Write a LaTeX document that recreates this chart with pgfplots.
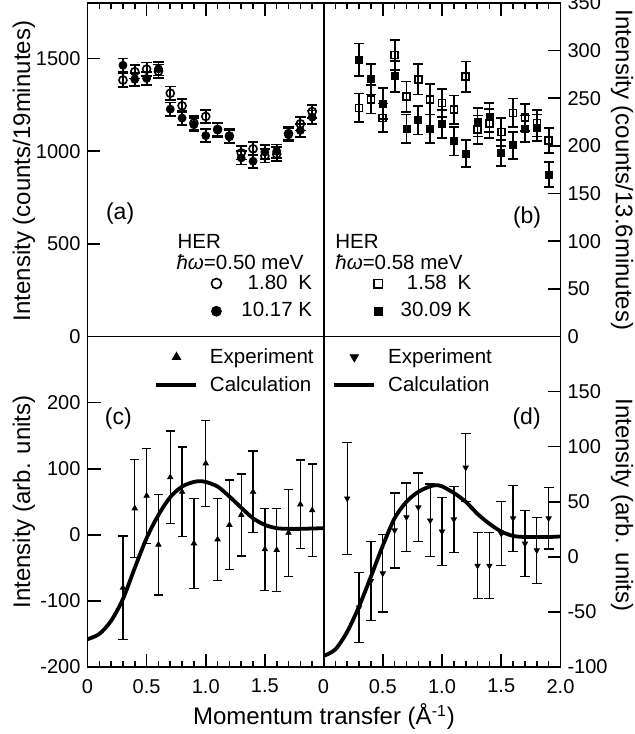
\documentclass[border=0pt]{standalone}
\usepackage{fontspec}
\setmainfont{Liberation Sans}
\usepackage{pgfplots}
\usepackage{pgfplotstable}
\pgfplotsset{compat=1.18}

\newcommand\tickfont{\fontsize{10}{11}\selectfont}
\newcommand\legfont{\fontsize{10.25}{12}\selectfont}
\newcommand\panfont{\fontsize{11.5}{13}\selectfont}
\newcommand\labfont{\fontsize{12}{14}\selectfont}

% (a) HER, hw = 0.50 meV
\pgfplotstableread{
x    y     e
0.3  1384  36
0.4  1429  36
0.5  1443  36
0.6  1432  36
0.7  1313  36
0.8  1245  36
0.9  1152  36
1.0  1188  36
1.1  1118  36
1.2  1082  36
1.3  991   36
1.4  1013  36
1.5  975   36
1.6  985   36
1.7  1095  36
1.8  1148  36
1.9  1214  36
}\aopen
\pgfplotstableread{
x    y     e
0.3  1464  36
0.4  1388  36
0.5  1393  36
0.6  1445  36
0.7  1227  36
0.8  1179  36
0.9  1143  36
1.0  1084  36
1.1  1114  36
1.2  1078  36
1.3  964   36
1.4  946   36
1.5  996   36
1.6  1000  36
1.7  1089  36
1.8  1112  36
1.9  1184  36
}\afull

% (b) HER, hw = 0.58 meV
\pgfplotstableread{
x    y      e
0.3  240    15
0.4  249    15
0.5  229.5  15
0.6  295.5  16
0.7  251.6  16
0.8  270    16
0.9  249    16
1.0  245    15
1.1  238    15
1.2  272.6  16
1.3  217    15
1.4  223.5  15
1.5  214.7  15
1.6  234.7  15
1.7  230    14
1.8  224    14
1.9  206    13
}\bopen
\pgfplotstableread{
x    y      e
0.3  290.5  17
0.4  270    16
0.5  244.6  16
0.6  273    16
0.7  218    15
0.8  227    15
0.9  218    15
1.0  223    15
1.1  205    15
1.2  192    14
1.3  225    15
1.4  230    15
1.5  192.6  14
1.6  200.7  14
1.7  218    14
1.8  219    14
1.9  170    13
}\bfull

% (c) experiment and calculation
\pgfplotstableread{
x    y    e
0.3  -80  78
0.4  40   74
0.5  59   72
0.6  -15  76
0.7  87   70
0.8  65   68
0.9  -13  68
1.0  108  65
1.1  -7   62
1.2  15   68
1.3  30   62
1.4  65   62
1.5  -22  62
1.6  -23  63
1.7  3    66
1.8  46   67
1.9  37   70
}\cexp
\pgfplotstableread{
x     y
0.0   -158
0.1   -150
0.2   -130
0.3   -97
0.4   -50
0.5   -5
0.6   30
0.7   57
0.8   73
0.9   80
0.95  81
1.0   80
1.1   73
1.2   58
1.3   41
1.4   25
1.5   15
1.6   10
1.7   9
1.8   9
1.9   9.5
2.0   10
}\ccalc

% (d) experiment and calculation
\pgfplotstableread{
x    y    e
0.2  53   51
0.3  -46  32
0.4  -22  36
0.5  -15  35
0.6  24   34
0.7  36   31
0.8  45   31
0.9  33   33
1.0  23   31
1.1  34   30
1.2  81   31
1.3  -8   30
1.4  -8   30
1.5  21   29
1.6  35   30
1.7  12   30
1.8  6    30
1.9  35   28
}\dexp
\pgfplotstableread{
x     y
0.0   -90
0.1   -84
0.2   -68
0.3   -45
0.4   -18
0.5   10
0.6   35
0.7   50
0.8   59
0.9   64
0.95  65
1.0   64
1.1   58
1.2   50
1.3   39
1.4   30
1.5   23
1.6   19
1.7   18
1.8   18
1.9   18
2.0   18.5
}\dcalc

\pgfplotsset{
  panel/.style={
    scale only axis, width=118.25pt,
    xmin=0, xmax=2, xtick={0,0.5,1,1.5,2}, minor x tick num=4,
    tick align=inside, major tick length=6.5pt, minor tick length=3.2pt,
    axis line style={line width=0.9pt},
    every tick/.append style={line width=0.8pt, black},
    /pgf/number format/assume math mode=true,
    tick label style={font=\tickfont},
    legend style={draw=none, fill=none, inner sep=0pt, font=\legfont,
      nodes={inner sep=1.5pt}, row sep=2.2pt},
  },
  toprow/.style={panel, height=166.75pt, xtick pos=right, xticklabel pos=left,
    xticklabels={{},{},{},{},{}}},
  bottomrow/.style={panel, height=165.25pt, xtick pos=left, xticklabel pos=left,
    xticklabel style={yshift=-2.5pt}},
  errs/.style 2 args={error bars/.cd, y dir=both, y explicit,
    error bar style={line width=#1, black},
    error mark options={rotate=90, line width=#1, mark size=#2, black}},
  legline/.style={legend image code/.code={
    \draw[mark repeat=2,mark phase=2,##1] plot coordinates {(0pt,0pt)(10pt,0pt)(20pt,0pt)};}},
}

\begin{document}
\begin{tikzpicture}
% (a)
\begin{axis}[toprow, at={(43.75pt,-1.5pt)}, anchor=north west,
  ymin=0, ymax=1800, ytick={0,500,1000,1500}, yticklabels={0,500,1000,1500},
  ytick pos=left, yticklabel pos=left,
  legend cell align=right,
  legend style={at={(rel axis cs:0.964,0.195)}, anchor=north east,
    /tikz/every odd column/.append style={column sep=8.5pt}}]
\addplot[forget plot, only marks, black, mark=o, mark size=2pt, line width=0.8pt, errs={0.9pt}{2.65pt}]
  table[y error=e] {\aopen};
\addplot[forget plot, only marks, black, mark=*, mark size=2pt, errs={0.9pt}{2.65pt}]
  table[y error=e] {\afull};
\addlegendimage{only marks, black, mark=o, mark size=2.5pt, line width=0.8pt}
\addlegendentry{1.80\hspace{0.25em} K}
\addlegendimage{only marks, black, mark=*, mark size=2.5pt}
\addlegendentry{10.17 K}
\node[anchor=west, inner sep=0pt, font=\legfont] at (rel axis cs:0.379,0.284) {HER};
\node[anchor=west, inner sep=0pt, font=\legfont] at (rel axis cs:0.375,0.224) {\textit{ħω}=0.50 meV};
\node[font=\panfont] at (rel axis cs:0.138,0.369) {(a)};
\end{axis}

% (b)
\begin{axis}[toprow, at={(161.75pt,-1.5pt)}, anchor=north west, width=118.5pt,
  ymin=0, ymax=350, ytick={0,50,...,350}, yticklabels={0,50,100,150,200,250,300,350},
  ytick pos=right, yticklabel pos=right,
  legend cell align=right,
  legend style={at={(rel axis cs:0.638,0.195)}, anchor=north east,
    /tikz/every odd column/.append style={column sep=7.5pt}}]
\addplot[forget plot, only marks, black, mark=square, mark size=1.75pt, line width=0.8pt, errs={0.9pt}{2.5pt}]
  table[y error=e] {\bopen};
\addplot[forget plot, only marks, black, mark=square*, mark size=1.75pt, errs={0.9pt}{2.5pt}]
  table[y error=e] {\bfull};
\addlegendimage{only marks, black, mark=square, mark size=2.1pt, line width=0.8pt}
\addlegendentry{1.58\hspace{0.25em} K}
\addlegendimage{only marks, black, mark=square*, mark size=2.1pt}
\addlegendentry{30.09 K}
\node[anchor=west, inner sep=0pt, font=\legfont] at (rel axis cs:0.0485,0.284) {HER};
\node[anchor=west, inner sep=0pt, font=\legfont] at (rel axis cs:0.0485,0.224) {\textit{ħω}=0.58 meV};
\node[font=\panfont] at (rel axis cs:0.859,0.358) {(b)};
\end{axis}

% (c)
\begin{axis}[bottomrow, at={(43.75pt,-168.25pt)}, anchor=north west,
  ymin=-200, ymax=300, ytick={-200,-100,0,100,200}, yticklabels={-200,-100,0,100,200},
  ytick pos=left, yticklabel pos=left,
  xticklabels={0,0.5,1.0,1.5,},
  legline, legend cell align=left,
  legend style={at={(rel axis cs:0.282,0.975)}, anchor=north west,
    /tikz/every odd column/.append style={column sep=4.3pt}}]
\addplot[forget plot, only marks, black, mark=triangle*, mark size=1.5pt, errs={0.65pt}{2.3pt}]
  table[y error=e] {\cexp};
\addplot[forget plot, black, line width=1.9pt, smooth, no marks] table {\ccalc};
\addlegendimage{only marks, black, mark=triangle*, mark size=2.4pt}
\addlegendentry{Experiment}
\addlegendimage{black, line width=1.9pt, no marks}
\addlegendentry{Calculation}
\node[font=\panfont] at (rel axis cs:0.1305,0.7525) {(c)};
\end{axis}

% (d)
\begin{axis}[bottomrow, at={(161.75pt,-168.25pt)}, anchor=north west, width=118.5pt,
  ymin=-100, ymax=200, ytick={-100,-50,0,50,100,150}, yticklabels={-100,-50,0,50,100,150},
  ytick pos=right, yticklabel pos=right,
  xticklabels={0,0.5,1.0,1.5,2.0},
  legline, legend cell align=left,
  legend style={at={(rel axis cs:0.036,0.975)}, anchor=north west,
    /tikz/every odd column/.append style={column sep=4.5pt}}]
\addplot[forget plot, only marks, black, mark=triangle*, mark options={rotate=180}, mark size=1.5pt, errs={0.65pt}{2.5pt}]
  table[y error=e] {\dexp};
\addplot[forget plot, black, line width=1.9pt, smooth, no marks] table {\dcalc};
\addlegendimage{only marks, black, mark=triangle*, mark options={rotate=180}, mark size=2.4pt}
\addlegendentry{Experiment}
\addlegendimage{black, line width=1.9pt, no marks}
\addlegendentry{Calculation}
\node[font=\panfont] at (rel axis cs:0.857,0.7525) {(d)};
\end{axis}

% axis titles
\node[rotate=90, font=\labfont] at (12pt,-85.5pt) {Intensity (counts/19minutes)};
\node[rotate=90, font=\labfont] at (12pt,-251pt) {Intensity (arb. units)};
\node[rotate=-90, font=\labfont] at (311pt,-85pt) {Intensity (counts/13.6minutes)};
\node[rotate=-90, font=\labfont] at (311pt,-252.5pt) {Intensity (arb. units)};
\node[font=\labfont] at (162pt,-358.5pt) {Momentum transfer (Å\textsuperscript{-1})};

\pgfresetboundingbox
\useasboundingbox (0pt,0pt) rectangle (317pt,-367pt);
\end{tikzpicture}
\end{document}
